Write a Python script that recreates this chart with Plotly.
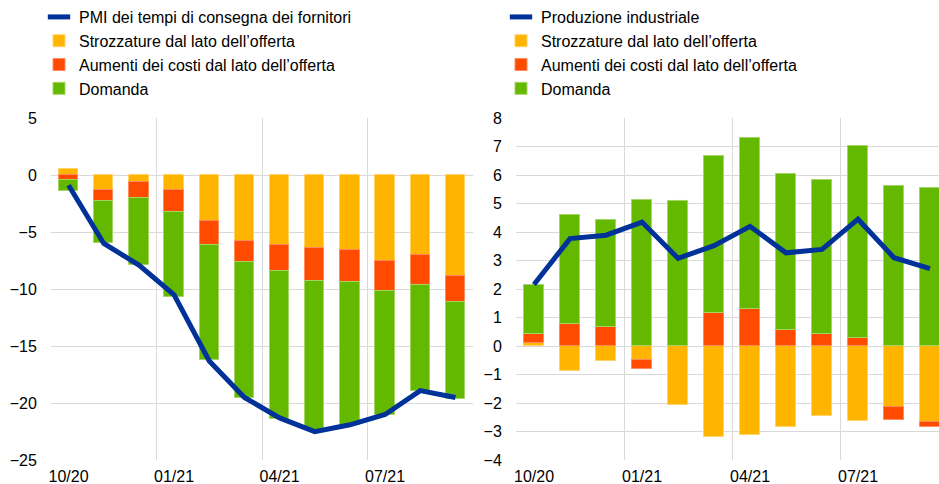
import plotly.graph_objects as go

# Months shown on both panels (one bar per month)
months = ["10/20", "11/20", "12/20", "01/21", "02/21", "03/21",
          "04/21", "05/21", "06/21", "07/21", "08/21", "09/21"]
tick_months = ["10/20", "01/21", "04/21", "07/21"]

# Left panel: PMI suppliers' delivery times and its decomposition
pmi_line = [-0.9, -6.0, -7.9, -10.5, -16.3, -19.5, -21.3, -22.5, -21.9, -21.0, -18.9, -19.5]
pmi_bottleneck = [0.5, -1.35, -0.6, -1.3, -4.05, -5.75, -6.1, -6.4, -6.55, -7.55, -7.05, -8.85]
pmi_cost = [-0.45, -0.95, -1.45, -1.95, -2.1, -1.9, -2.3, -2.85, -2.85, -2.6, -2.55, -2.3]
pmi_demand = [-0.95, -3.7, -5.8, -7.4, -10.1, -11.9, -12.95, -13.1, -12.5, -10.9, -9.3, -8.45]

# Right panel: industrial production and its decomposition
ip_line = [2.16, 3.77, 3.89, 4.35, 3.08, 3.52, 4.2, 3.27, 3.39, 4.45, 3.1, 2.72]
ip_bottleneck = [0.1, -0.88, -0.53, -0.47, -2.07, -3.18, -3.13, -2.83, -2.46, -2.63, -2.13, -2.67]
ip_cost = [0.31, 0.78, 0.66, -0.33, 0.0, 1.15, 1.29, 0.55, 0.43, 0.30, -0.47, -0.18]
ip_demand = [1.75, 3.83, 3.75, 5.11, 5.1, 5.52, 6.02, 5.47, 5.38, 6.73, 5.62, 5.54]

BLUE = "#003299"
YELLOW = "#FFB400"
ORANGE = "#FF4B00"
GREEN = "#65B800"
EDGE = {YELLOW: "#FFD366", ORANGE: "#FF8A5C", GREEN: "#A3D466"}
GRID = "#D9D9D9"
FONT = "Liberation Sans, Arial, sans-serif"
FS = 16

xpos = list(range(len(months)))

fig = go.Figure()


def add_panel(line_vals, line_name, bottleneck, cost, demand, xa, ya, legend):
    bars = [
        ("Strozzature dal lato dell\u2019offerta", bottleneck, YELLOW, 2),
        ("Aumenti dei costi dal lato dell\u2019offerta", cost, ORANGE, 3),
        ("Domanda", demand, GREEN, 4),
    ]
    for name, vals, col, rank in bars:
        fig.add_trace(go.Bar(
            x=xpos, y=vals, name=name, width=0.55,
            marker=dict(color=col, line=dict(color=EDGE[col], width=1)),
            xaxis=xa, yaxis=ya, legend=legend, legendrank=rank,
        ))
    fig.add_trace(go.Scatter(
        x=xpos, y=line_vals, name=line_name, mode="lines",
        line=dict(color=BLUE, width=5), showlegend=False,
        xaxis=xa, yaxis=ya,
    ))
    # legend key for the line: short thick dash
    fig.add_trace(go.Scatter(
        x=[None], y=[None], name=line_name, mode="markers",
        marker=dict(symbol="line-ew", size=16, color=BLUE,
                    line=dict(color=BLUE, width=5)),
        xaxis=xa, yaxis=ya, legend=legend, legendrank=1,
    ))


add_panel(pmi_line, "PMI dei tempi di consegna dei fornitori",
          pmi_bottleneck, pmi_cost, pmi_demand, "x", "y", "legend")
add_panel(ip_line, "Produzione industriale",
          ip_bottleneck, ip_cost, ip_demand, "x2", "y2", "legend2")

W, H = 939, 484
ydom = [1 - 460 / H, 1 - 115.7 / H]

xcommon = dict(
    tickmode="array", tickvals=[0, 3, 6, 9], ticktext=tick_months,
    showgrid=False, zeroline=False, showline=False, automargin=False,
    ticks="outside", ticklen=2, tickcolor="rgba(0,0,0,0)",
    tickfont=dict(family=FONT, size=FS, color="#000000"),
    minor=dict(tickmode="array", tickvals=[-0.5, 2.5, 5.5, 8.5, 11.5],
               showgrid=True, gridcolor=GRID, gridwidth=1, ticks=""),
    fixedrange=True,
)
ycommon = dict(
    showgrid=True, gridcolor=GRID, gridwidth=1, automargin=False,
    zeroline=True, zerolinecolor=GRID, zerolinewidth=1,
    showline=False, ticks="outside", ticklen=10, tickcolor="rgba(0,0,0,0)",
    tickfont=dict(family=FONT, size=FS, color="#000000"),
    fixedrange=True,
)

legend_common = dict(
    xanchor="left", yanchor="top", bgcolor="rgba(0,0,0,0)",
    font=dict(family=FONT, size=FS, color="#000000"),
    itemclick=False, itemdoubleclick=False, tracegroupgap=0,
)

fig.update_layout(
    width=W, height=H,
    margin=dict(l=0, r=0, t=0, b=0),
    paper_bgcolor="white", plot_bgcolor="white",
    barmode="relative", bargap=0,
    font=dict(family=FONT, size=FS, color="#000000"),
    xaxis=dict(domain=[51 / W, 473 / W], range=[-0.5, 11.5], anchor="y", **xcommon),
    yaxis=dict(domain=ydom, range=[-25, 5], dtick=5, anchor="x", **ycommon),
    xaxis2=dict(domain=[516 / W, 1.0], range=[-0.5, 11.25], anchor="y2", **xcommon),
    yaxis2=dict(domain=ydom, range=[-4, 8], dtick=1, anchor="x2", **ycommon),
    legend=dict(x=39 / W, y=1 + 3 / H, **legend_common),
    legend2=dict(x=501 / W, y=1 + 3 / H, **legend_common),
    showlegend=True,
)

fig.write_html("out.html")
